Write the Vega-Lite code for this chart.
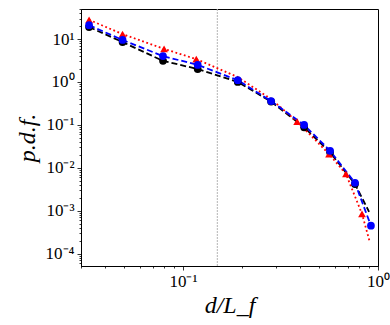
{
  "$schema": "https://vega.github.io/schema/vega-lite/v6.json",
  "width": 297,
  "height": 257,
  "autosize": "none",
  "padding": {"left": 81, "top": 9, "right": 12, "bottom": 59},
  "background": "white",
  "config": {
    "view": {"stroke": "black", "strokeWidth": 1},
    "axis": {
      "grid": false,
      "domainColor": "black",
      "tickColor": "black",
      "tickWidth": 0.8,
      "labelColor": "black",
      "labelFont": "Liberation Serif",
      "labelFontSize": 17,
      "labelOverlap": false,
      "labelFlush": false,
      "titleFont": "Liberation Serif",
      "titleFontStyle": "italic",
      "titleFontWeight": "normal",
      "titleColor": "black"
    }
  },
  "datasets": {
    "vline": [{"x": 0.15}],
    "lines": [
      {"series": "black", "x": 0.033, "y": 19},
      {"series": "black", "x": 0.049, "y": 8.5},
      {"series": "black", "x": 0.079, "y": 3.1},
      {"series": "black", "x": 0.119, "y": 2.0},
      {"series": "black", "x": 0.191, "y": 1.0},
      {"series": "black", "x": 0.283, "y": 0.35},
      {"series": "black", "x": 0.418, "y": 0.088},
      {"series": "black", "x": 0.568, "y": 0.023},
      {"series": "black", "x": 0.762, "y": 0.0042},
      {"series": "black", "x": 0.9, "y": 0.00095},
      {"series": "red", "x": 0.033, "y": 28},
      {"series": "red", "x": 0.049, "y": 13},
      {"series": "red", "x": 0.08, "y": 5.9},
      {"series": "red", "x": 0.117, "y": 3.4},
      {"series": "red", "x": 0.191, "y": 1.3},
      {"series": "red", "x": 0.283, "y": 0.4},
      {"series": "red", "x": 0.385, "y": 0.12},
      {"series": "red", "x": 0.561, "y": 0.021},
      {"series": "red", "x": 0.685, "y": 0.0072},
      {"series": "red", "x": 0.828, "y": 0.00085},
      {"series": "red", "x": 0.91, "y": 0.00018},
      {"series": "blue", "x": 0.033, "y": 21},
      {"series": "blue", "x": 0.049, "y": 9.5},
      {"series": "blue", "x": 0.079, "y": 4.0},
      {"series": "blue", "x": 0.119, "y": 2.5},
      {"series": "blue", "x": 0.191, "y": 1.1},
      {"series": "blue", "x": 0.283, "y": 0.36},
      {"series": "blue", "x": 0.418, "y": 0.1},
      {"series": "blue", "x": 0.568, "y": 0.025},
      {"series": "blue", "x": 0.762, "y": 0.0045},
      {"series": "blue", "x": 0.92, "y": 0.00045}
    ],
    "markers": [
      {"series": "black", "x": 0.033, "y": 19},
      {"series": "black", "x": 0.049, "y": 8.5},
      {"series": "black", "x": 0.079, "y": 3.1},
      {"series": "black", "x": 0.119, "y": 2.0},
      {"series": "black", "x": 0.191, "y": 1.0},
      {"series": "black", "x": 0.283, "y": 0.35},
      {"series": "black", "x": 0.418, "y": 0.088},
      {"series": "black", "x": 0.568, "y": 0.023},
      {"series": "black", "x": 0.762, "y": 0.0042},
      {"series": "red", "x": 0.033, "y": 28},
      {"series": "red", "x": 0.049, "y": 13},
      {"series": "red", "x": 0.08, "y": 5.9},
      {"series": "red", "x": 0.117, "y": 3.4},
      {"series": "red", "x": 0.385, "y": 0.12},
      {"series": "red", "x": 0.561, "y": 0.021},
      {"series": "red", "x": 0.685, "y": 0.0072},
      {"series": "red", "x": 0.828, "y": 0.00085},
      {"series": "blue", "x": 0.033, "y": 21},
      {"series": "blue", "x": 0.049, "y": 9.5},
      {"series": "blue", "x": 0.079, "y": 4.0},
      {"series": "blue", "x": 0.119, "y": 2.5},
      {"series": "blue", "x": 0.191, "y": 1.1},
      {"series": "blue", "x": 0.283, "y": 0.36},
      {"series": "blue", "x": 0.418, "y": 0.1},
      {"series": "blue", "x": 0.568, "y": 0.025},
      {"series": "blue", "x": 0.762, "y": 0.0045},
      {"series": "blue", "x": 0.92, "y": 0.00045}
    ]
  },
  "layer": [
    {
      "data": {"name": "vline"},
      "mark": {"type": "rule", "color": "#b5b5b5", "strokeWidth": 1, "strokeDash": [2, 1]},
      "encoding": {
        "x": {
          "field": "x", "type": "quantitative",
          "scale": {"type": "log", "domain": [0.03, 1], "nice": false},
          "axis": {
            "values": [0.03, 0.04, 0.05, 0.06, 0.07, 0.08, 0.09, 0.1, 0.2, 0.3, 0.4, 0.5, 0.6, 0.7, 0.8, 0.9, 1],
            "labelExpr": "datum.value == 0.1 ? '10⁻¹' : datum.value == 1 ? '10⁰' : ''",
            "tickSize": {"condition": {"test": "indexof([0.1, 1], datum.value) >= 0", "value": 4}, "value": 2},
            "labelPadding": 3,
            "title": "d/L_f",
            "titleFontSize": 24,
            "titlePadding": 4
          }
        }
      }
    },
    {
      "data": {"name": "lines"},
      "mark": {"type": "line", "strokeWidth": 1.8, "clip": true},
      "encoding": {
        "x": {"field": "x", "type": "quantitative"},
        "y": {
          "field": "y", "type": "quantitative",
          "scale": {"type": "log", "domain": [0.000052, 50], "nice": false},
          "axis": {
            "values": [0.00006, 0.00007, 0.00008, 0.00009, 0.0001, 0.0002, 0.0003, 0.0004, 0.0005, 0.0006, 0.0007, 0.0008, 0.0009, 0.001, 0.002, 0.003, 0.004, 0.005, 0.006, 0.007, 0.008, 0.009, 0.01, 0.02, 0.03, 0.04, 0.05, 0.06, 0.07, 0.08, 0.09, 0.1, 0.2, 0.3, 0.4, 0.5, 0.6, 0.7, 0.8, 0.9, 1, 2, 3, 4, 5, 6, 7, 8, 9, 10, 20, 30, 40, 50],
            "labelExpr": "datum.value == 10 ? '10¹' : datum.value == 1 ? '10⁰' : datum.value == 0.1 ? '10⁻¹' : datum.value == 0.01 ? '10⁻²' : datum.value == 0.001 ? '10⁻³' : datum.value == 0.0001 ? '10⁻⁴' : ''",
            "tickSize": {"condition": {"test": "indexof([10, 1, 0.1, 0.01, 0.001, 0.0001], datum.value) >= 0", "value": 4}, "value": 2},
            "labelPadding": 3,
            "title": "p.d.f.",
            "titleFontSize": 24,
            "titlePadding": 6
          }
        },
        "color": {"field": "series", "type": "nominal", "scale": {"domain": ["black", "red", "blue"], "range": ["#000000", "#ff0000", "#0000ff"]}, "legend": null},
        "strokeDash": {"field": "series", "type": "nominal", "scale": {"domain": ["black", "red", "blue"], "range": [[6, 3], [1.8, 2.6], [6, 3]]}, "legend": null},
        "order": {"field": "x", "type": "quantitative"}
      }
    },
    {
      "data": {"name": "markers"},
      "mark": {"type": "point", "filled": true, "opacity": 1, "size": 60, "clip": true},
      "encoding": {
        "x": {"field": "x", "type": "quantitative"},
        "y": {"field": "y", "type": "quantitative"},
        "color": {"field": "series", "type": "nominal", "scale": {"domain": ["black", "red", "blue"], "range": ["#000000", "#ff0000", "#0000ff"]}, "legend": null},
        "shape": {"field": "series", "type": "nominal", "scale": {"domain": ["black", "red", "blue"], "range": ["circle", "triangle-up", "circle"]}, "legend": null}
      }
    }
  ]
}
